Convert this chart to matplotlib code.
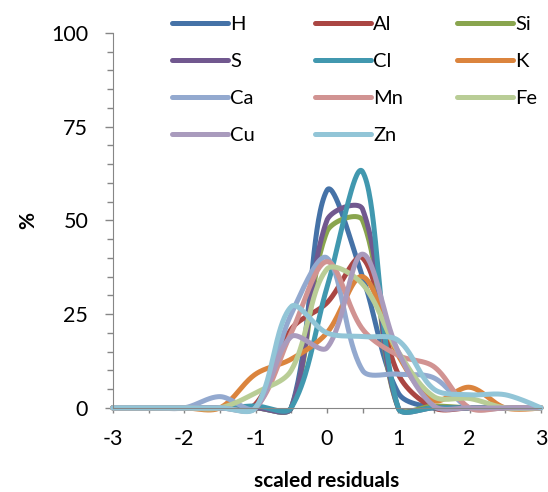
import numpy as np
import matplotlib
matplotlib.use("Agg")
import matplotlib.pyplot as plt
from matplotlib.ticker import MultipleLocator

# histogram of scaled residuals, bins every 0.5
x = [-3, -2.5, -2, -1.5, -1, -0.5, 0, 0.5, 1, 1.5, 2, 2.5, 3]

H  = [0, 0, 0, 0, 0, 0, 58, 35, 4, 0, 0, 0, 0]
Al = [0, 0, 0, 0, 1, 21, 28, 40, 9, 0, 0, 0, 0]
Si = [0, 0, 0, 0, 0, 0, 47, 50, 0, 0.5, 0, 0, 0]
S  = [0, 0, 0, 0, 0, 0, 50, 53, 0, 0, 0, 0, 0]
Cl = [0, 0, 0, 0, 0.5, 0, 32, 63, 0, 0, 0, 0, 0]
K  = [0, 0, 0, 0, 9, 13, 20, 35, 14, 2, 5.5, 0, 0]
Ca = [0, 0, 0, 3, 0, 25, 40, 10, 9, 8, 0, 0, 0]
Mn = [0, 0, 0, 0, 0, 20, 39, 21, 14, 11, 0, 0, 0]
Fe = [0, 0, 0, 0, 4, 10, 37, 33, 15, 3, 2.5, 0, 0]
Cu = [0, 0, 0, 0, 0, 19, 16, 41, 15, 0.5, 0, 0, 0]
Zn = [0, 0, 0, 0, 0, 27, 20, 19, 18, 5, 3.5, 3.5, 0]

names = ["H", "Al", "Si", "S", "Cl", "K", "Ca", "Mn", "Fe", "Cu", "Zn"]
series = [H, Al, Si, S, Cl, K, Ca, Mn, Fe, Cu, Zn]
colors = ["#4572A7", "#AA4643", "#89A54E", "#71588F", "#4198AF", "#DB843D",
          "#93A9CF", "#D19392", "#B9CD96", "#A99BBD", "#92C5D7"]


def smooth(ax, xs, ys, n=40, f=1/3.):
    # excel-style smoothed line: bezier in screen space, tangents scaled
    # by the neighbouring segment lengths
    P = ax.transData.transform(np.column_stack([xs, ys]))
    L = np.hypot(*np.diff(P, axis=0).T)
    m = len(P)
    t = np.linspace(0, 1, n)[:, None]
    out = []
    for i in range(m - 1):
        p0, p3 = P[i], P[i + 1]
        if i > 0:
            d = P[i + 1] - P[i - 1]
            p1 = p0 + f * d * L[i] / (L[i - 1] + L[i] + 1e-9)
        else:
            p1 = p0
        if i + 2 < m:
            d = P[i + 2] - P[i]
            p2 = p3 - f * d * L[i] / (L[i] + L[i + 1] + 1e-9)
        else:
            p2 = p3
        seg = ((1 - t) ** 3 * p0 + 3 * (1 - t) ** 2 * t * p1
               + 3 * (1 - t) * t ** 2 * p2 + t ** 3 * p3)
        out.append(seg)
    out = ax.transData.inverted().transform(np.vstack(out))
    return out[:, 0], out[:, 1]


plt.rcParams['font.family'] = ['Lato', 'DejaVu Sans']
plt.rcParams['axes.unicode_minus'] = False

fig = plt.figure(figsize=(5.48, 4.92), dpi=100)
ax = fig.add_axes([0.206, 0.171, 0.781, 0.762])
ax.set_xlim(-3, 3)
ax.set_ylim(0, 100)

lines = {}
for name, ys, c in zip(names, series, colors):
    sx, sy = smooth(ax, x, ys)
    lines[name], = ax.plot(sx, sy, color=c, lw=3.6, label=name,
                           solid_capstyle='round', clip_on=False)

ax.xaxis.set_major_locator(MultipleLocator(1))
ax.xaxis.set_minor_locator(MultipleLocator(0.5))
ax.yaxis.set_major_locator(MultipleLocator(25))
ax.yaxis.set_minor_locator(MultipleLocator(5))
ax.tick_params(which='both', direction='out', color='#868686', labelsize=15.5)
ax.tick_params(axis='x', which='both', length=3.3, width=1, pad=12)
ax.tick_params(axis='y', which='major', length=5.8, width=1, pad=12)
ax.tick_params(axis='y', which='minor', length=4.3, width=1)
for s in ['top', 'right']:
    ax.spines[s].set_visible(False)
for s in ['left', 'bottom']:
    ax.spines[s].set_color('#868686')

ax.set_xlabel('scaled residuals', fontsize=15, fontweight='bold')
ax.set_ylabel('%', fontsize=15, fontweight='bold')
ax.xaxis.set_label_coords(0.5, -0.168)
ax.yaxis.set_label_coords(-0.175, 0.5)

# legend: three columns placed like the original
cols = [["H", "S", "Ca", "Cu"], ["Al", "Cl", "Mn", "Zn"], ["Si", "K", "Fe"]]
col_x = [172, 315, 457]
for names_c, cx in zip(cols, col_x):
    leg = fig.legend([lines[k] for k in names_c], names_c, frameon=False,
                     fontsize=14.5, handlelength=2.8, handletextpad=0.1,
                     labelspacing=0.98, borderpad=0, borderaxespad=0,
                     loc='upper left',
                     bbox_to_anchor=(cx / 548, 1 - 16 / 492))

fig.savefig("out.png", dpi=100)
